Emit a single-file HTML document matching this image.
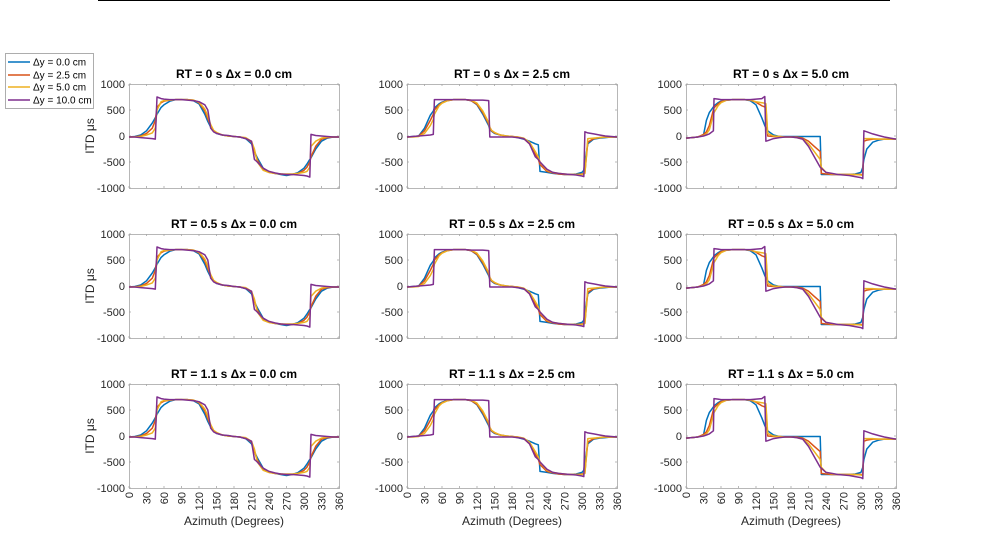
<!DOCTYPE html>
<html><head><meta charset="utf-8"><style>
body{margin:0;background:#fff;}
svg{display:block;font-family:"Liberation Sans",sans-serif;}
</style></head><body>
<svg id="fig" width="990" height="544" viewBox="0 0 990 544">
<line x1="98" y1="0.5" x2="890" y2="0.5" stroke="#000" stroke-width="1"/>
<g>
<rect x="5.5" y="53.5" width="88" height="55" fill="#fff" stroke="#999" stroke-width="0.8"/>
<line x1="8" y1="62" x2="30" y2="62" stroke="#0072BD" stroke-width="1.5"/>
<text x="33" y="65.5" font-size="10">Δy = 0.0 cm</text>
<line x1="8" y1="75" x2="30" y2="75" stroke="#D95319" stroke-width="1.5"/>
<text x="33" y="78.5" font-size="10">Δy = 2.5 cm</text>
<line x1="8" y1="87" x2="30" y2="87" stroke="#EDB120" stroke-width="1.5"/>
<text x="33" y="90.5" font-size="10">Δy = 5.0 cm</text>
<line x1="8" y1="100" x2="30" y2="100" stroke="#7E2F8E" stroke-width="1.5"/>
<text x="33" y="103.5" font-size="10">Δy = 10.0 cm</text>
</g>
</svg>
<script>
const rtLabels = ["0", "0.5", "1.1"];
const dxLabels = ["0.0", "2.5", "5.0"];
const xTicks = [0,30,60,90,120,150,180,210,240,270,300,330,360];
const yTicks = [-1000,-500,0,500,1000];
const colors = ["#0072BD","#D95319","#EDB120","#7E2F8E"];

const az0 = [0,10,20,30,40,45,48,55,60,70,80,90,100,110,120,130,135,140,145,150,160,170,180,190,200,210,215,220,230,240,250,260,270,280,290,300,305,310,312,320,330,340,350,360];
const c0blue = [-20,-10,20,100,250,350,420,550,600,670,700,700,700,680,620,420,280,170,90,50,20,0,-10,-20,-50,-150,-300,-420,-620,-690,-720,-740,-760,-740,-700,-620,-540,-450,-420,-250,-100,-40,-20,-20];
const c0orange = [-20,-15,0,50,150,300,550,640,670,690,700,700,700,690,640,480,330,200,100,60,20,0,-10,-20,-40,-120,-300,-460,-650,-700,-720,-730,-740,-740,-720,-660,-600,-500,-400,-200,-60,-30,-20,-20];
const c0yellow = [-20,-20,-10,20,60,150,500,660,680,690,700,700,700,690,650,520,380,220,110,70,20,0,-10,-20,-30,-100,-250,-500,-660,-700,-720,-730,-730,-730,-720,-700,-680,-600,-200,-100,-40,-20,-20,-20];
const c0purple = [-20,-20,-30,-40,-50,-60,750,720,710,700,700,700,690,680,660,600,500,150,80,50,20,10,-10,-20,-50,-100,-450,-500,-620,-680,-710,-730,-740,-740,-750,-760,-770,-790,30,10,0,-10,-20,-20];

const az1 = [0,10,20,30,40,45,47,55,60,70,80,90,100,110,120,130,140,142,145,150,160,170,180,190,200,210,220,225,228,240,250,260,270,280,290,300,303,305,310,320,330,340,350,360];
const c1blue = [-20,-10,0,150,400,480,540,620,650,690,700,700,700,680,600,420,200,130,90,50,20,0,-10,-30,-60,-100,-150,-170,-680,-700,-720,-730,-740,-740,-730,-700,-660,-500,-150,-60,-40,-30,-20,-20];
const c1orange = [-20,-15,0,100,300,420,500,600,640,680,700,700,700,680,610,450,230,150,100,60,20,0,-10,-20,-50,-150,-350,-450,-550,-680,-710,-730,-740,-740,-740,-730,-720,-700,-120,-50,-30,-20,-20,-20];
const c1yellow = [-20,-20,-10,50,200,320,420,580,630,680,700,700,700,690,630,480,260,170,110,70,20,0,-10,-20,-40,-120,-300,-400,-500,-660,-700,-720,-730,-740,-740,-740,-730,-720,-50,-40,-30,-20,-20,-20];
const c1purple = [-20,-10,0,10,20,30,700,700,700,700,700,700,700,690,690,690,680,-20,-20,-20,-20,-20,-20,-30,-50,-150,-400,-450,-500,-640,-700,-720,-730,-740,-750,-770,-780,80,60,40,20,0,-10,-20];

const az2 = [0,10,20,30,35,40,47,48,55,60,70,80,90,100,110,120,130,135,137,140,150,160,170,180,190,200,210,220,230,232,240,250,260,270,280,290,300,303,305,310,320,330,340,350,360];
const c2blue = [-40,-30,-20,20,300,450,560,580,640,670,690,700,700,700,680,600,350,200,160,100,20,-10,-10,-10,-10,-10,-10,-10,-10,-740,-740,-740,-740,-740,-740,-730,-700,-600,-450,-250,-120,-80,-60,-60,-60];
const c2orange = [-40,-30,-20,30,80,200,500,540,620,660,690,700,700,700,690,650,580,560,550,0,-10,-10,-20,-20,-20,-40,-100,-200,-300,-720,-730,-740,-740,-740,-740,-740,-740,-740,-100,-80,-60,-60,-60,-60,-60];
const c2yellow = [-40,-30,-20,10,40,120,400,450,580,640,690,700,700,700,690,660,640,630,620,50,0,-10,-20,-20,-30,-60,-150,-300,-450,-600,-700,-730,-740,-740,-740,-740,-750,-760,-50,-50,-50,-60,-60,-60,-60];
const c2purple = [-40,-30,-20,0,20,40,100,720,710,700,700,700,700,700,700,710,720,760,-100,-90,-50,-30,-20,-20,-30,-60,-200,-400,-600,-620,-700,-720,-740,-750,-760,-780,-800,-820,100,80,40,10,-20,-40,-60];

const azByCol = [az0, az1, az2];
const seriesByCol = [[c0blue,c0orange,c0yellow,c0purple],[c1blue,c1orange,c1yellow,c1purple],[c2blue,c2orange,c2yellow,c2purple]];

const NS = "http://www.w3.org/2000/svg";
const svg = document.getElementById("fig");
const colLeft = [129, 407, 686], W = 210;
const rowTop = [84, 234, 384], H = 104;
function mk(tag, attrs, parent){const e=document.createElementNS(NS,tag);for(const k in attrs)e.setAttribute(k,attrs[k]);parent.appendChild(e);return e;}

for(let r=0;r<3;r++){for(let c=0;c<3;c++){
  const L=colLeft[c], T=rowTop[r];
  const xs = v => L + v/360*W;
  const ys = v => T + (1000 - v)/2000*H;
  const g = mk("g",{},svg);
  
  
  const box = mk("rect",{x:L+0.5,y:T+0.5,width:W,height:H,fill:"#fff",stroke:"#a6a6a6","stroke-width":0.8},g);
  
  
  const title = mk("text",{x:L+W/2,y:T-6,"font-size":12,"font-weight":"bold","text-anchor":"middle","xml:space":"preserve"},g);
  title.textContent = "RT = "+rtLabels[r]+" s    \u0394x = "+dxLabels[c]+" cm";
  
  
  xTicks.forEach(t=>{
    const x=xs(t);
    mk("line",{x1:x,y1:T+H,x2:x,y2:T+H-2,stroke:"#a6a6a6","stroke-width":0.8},g);
    mk("line",{x1:x,y1:T,x2:x,y2:T+2,stroke:"#a6a6a6","stroke-width":0.8},g);
    if(r===2){
      const tl = mk("text",{x:0,y:0,"font-size":11,fill:"#262626","text-anchor":"end",transform:"translate("+(x+4)+","+(T+H+4)+") rotate(-90)"},g);
      tl.textContent = t;
      
      
    }
  });
  yTicks.forEach(t=>{
    const y=ys(t);
    mk("line",{x1:L,y1:y,x2:L+2,y2:y,stroke:"#a6a6a6","stroke-width":0.8},g);
    mk("line",{x1:L+W,y1:y,x2:L+W-2,y2:y,stroke:"#a6a6a6","stroke-width":0.8},g);
    const yl = mk("text",{x:L-4,y:y+4,"font-size":11,fill:"#262626","text-anchor":"end"},g);
    yl.textContent = t;
    
    
  });
  const az = azByCol[c];
  seriesByCol[c].forEach((vals,si)=>{
    const d = vals.map((v,i)=>(i?"L":"M")+xs(az[i]).toFixed(1)+","+ys(v).toFixed(1)).join("");
    const p = mk("path",{d:d,fill:"none",stroke:colors[si],"stroke-width":1.5,"stroke-linejoin":"round"},g);
    
    
  });
  if(c===0){
    const yt = mk("text",{x:0,y:0,"font-size":12,fill:"#262626","text-anchor":"middle",transform:"translate("+(L-35)+","+(T+H/2)+") rotate(-90)"},g);
    yt.textContent = "ITD \u03bcs";
    
    
  }
  if(r===2){
    const xt = mk("text",{x:L+W/2,y:525,"font-size":12,fill:"#262626","text-anchor":"middle"},g);
    xt.textContent = "Azimuth (Degrees)";
    
    
  }
}}
</script>
</body></html>
